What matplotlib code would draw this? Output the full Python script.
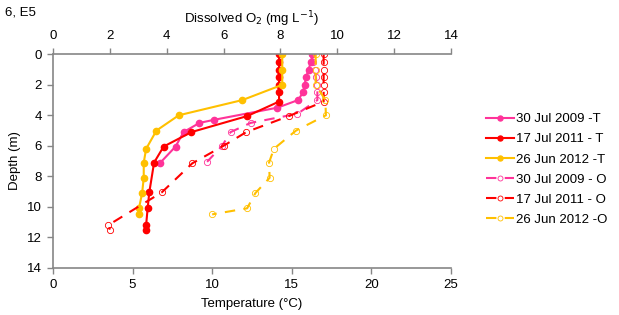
import matplotlib
matplotlib.use("Agg")
import matplotlib.pyplot as plt

plt.rcParams['font.family'] = ['Liberation Sans', 'DejaVu Sans']
FS = 9.5
plt.rcParams['font.size'] = FS

PINK, RED, GOLD = '#FF3399', '#FF0000', '#FFC000'
SPINE = '#868686'

# temperature profiles (degC) vs depth (m)
depth_t_2009 = [0, 0.5, 1, 1.5, 2, 2.5, 3, 3.5, 4.3, 4.5, 5.1, 6.05, 7.1]
temp_2009    = [16.3, 16.2, 16.05, 15.9, 15.8, 15.7, 15.4, 14.1, 10.1, 9.2, 8.2, 7.7, 6.75]

depth_t_2011 = [0, 0.5, 1, 1.5, 2, 2.5, 3.1, 4.05, 5.1, 6.05, 7.1, 9.05, 10.05, 11.2, 11.5]
temp_2011    = [14.2, 14.2, 14.2, 14.2, 14.2, 14.2, 14.2, 12.2, 8.7, 6.95, 6.35, 6.05, 5.95, 5.85, 5.85]

depth_t_2012 = [0, 1, 2, 3, 4, 5, 6.2, 7.1, 8.1, 9.1, 10.1, 10.5]
temp_2012    = [14.4, 14.4, 14.4, 11.9, 7.9, 6.5, 5.85, 5.7, 5.7, 5.6, 5.4, 5.4]

# dissolved oxygen profiles (mg/L) vs depth (m)
depth_o_2009 = [0, 0.5, 1, 1.5, 2, 2.5, 3, 3.9, 4.5, 5.1, 6.0, 7.05]
oxy_2009     = [9.1, 9.15, 9.2, 9.25, 9.27, 9.3, 9.3, 8.6, 6.95, 6.25, 5.95, 5.42]

depth_o_2011 = [0, 0.5, 1, 1.5, 2, 2.5, 3.1, 4.05, 5.1, 6.0, 7.15, 9.05, 11.2, 11.5]
oxy_2011     = [9.52, 9.52, 9.52, 9.52, 9.52, 9.52, 9.52, 8.3, 6.8, 6.0, 4.9, 3.83, 1.95, 2.0]

depth_o_2012 = [0, 1, 2, 3, 4, 5, 6.2, 7.1, 8.1, 9.1, 10.1, 10.5]
oxy_2012     = [9.24, 9.24, 9.24, 9.58, 9.6, 8.55, 7.77, 7.6, 7.62, 7.12, 6.83, 5.6]

labels_t = ['30 Jul 2009 -T', '17 Jul 2011 - T', '26 Jun 2012 -T']
labels_o = ['30 Jul 2009 - O', '17 Jul 2011 - O', '26 Jun 2012 -O']

fig = plt.figure(figsize=(6.19, 3.15), dpi=100)
ax = fig.add_axes([0.0856, 0.150, 0.643, 0.6776])
ax2 = ax.twiny()

handles = []
for d, t, c, lab in [(depth_t_2009, temp_2009, PINK, labels_t[0]),
                     (depth_t_2011, temp_2011, RED, labels_t[1]),
                     (depth_t_2012, temp_2012, GOLD, labels_t[2])]:
    h, = ax.plot(t, d, '-', color=c, lw=1.5, marker='o', ms=4.5, label=lab)
    handles.append(h)

for d, o, c, lab in [(depth_o_2009, oxy_2009, PINK, labels_o[0]),
                     (depth_o_2011, oxy_2011, RED, labels_o[1]),
                     (depth_o_2012, oxy_2012, GOLD, labels_o[2])]:
    h, = ax2.plot(o, d, color=c, lw=1.5, ls=(0, (5, 4)), marker='o', ms=4.5,
                  mfc='none', mec=c, mew=0.6, label=lab)
    handles.append(h)

ax.set_xlim(0, 25)
ax.set_xticks(range(0, 26, 5))
ax.set_ylim(14, 0)
ax.set_yticks(range(0, 15, 2))
ax2.set_xlim(0, 14)
ax2.set_xticks(range(0, 15, 2))

for a in (ax, ax2):
    a.spines['right'].set_visible(False)
    for s in a.spines.values():
        s.set_color(SPINE)
        s.set_linewidth(1.2)
    a.tick_params(colors=SPINE, labelcolor='black', length=4, width=1, direction='out',
                  labelsize=FS, pad=4)
ax2.tick_params(axis='x', pad=5)
ax.spines['top'].set_visible(False)
ax2.spines['bottom'].set_visible(False)
ax2.spines['left'].set_visible(False)

ax.set_xlabel('Temperature (°C)', fontsize=FS, labelpad=5)
ax.set_ylabel('Depth (m)', fontsize=FS, labelpad=4)
ax2.set_xlabel('Dissolved O$_2$ (mg L$^{-1}$)', fontsize=FS, labelpad=5)

fig.text(0.008, 0.96, '6, E5', fontsize=FS, ha='left', va='center')

fig.legend(handles=handles, loc='center left', bbox_to_anchor=(0.785, 0.462),
           frameon=False, fontsize=FS, handlelength=2.1, handletextpad=0.2,
           labelspacing=0.6, borderpad=0, borderaxespad=0, markerscale=0.8)

fig.savefig('out.png', dpi=100)
